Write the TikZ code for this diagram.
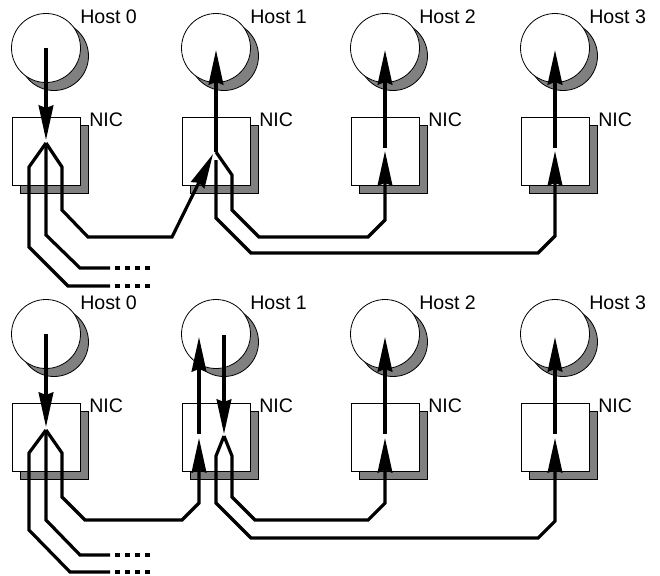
\documentclass[tikz,border=0pt]{standalone}
\usepackage{fontspec}
\setmainfont{Liberation Sans}
\usetikzlibrary{arrows.meta}
\definecolor{shadowgray}{HTML}{808080}
\begin{document}
\begin{tikzpicture}[x=0.75pt,y=-0.75pt,
  wire/.style={line width=2.4pt},
  arr/.style={wire, -{Stealth[length=26pt,width=11pt,inset=2pt]}},
  hostc/.style={circle, draw=black, line width=0.6pt, fill=white, minimum size=51.75pt, inner sep=0pt},
  hosts/.style={hostc, fill=shadowgray},
  nicbox/.style={rectangle, draw=black, line width=0.6pt, fill=white, minimum width=51pt, minimum height=51pt, inner sep=0pt},
  nics/.style={nicbox, fill=shadowgray},
  lbl/.style={font=\fontsize{14.7pt}{16pt}\selectfont, inner sep=0pt, anchor=west},
  dashwire/.style={line width=2.4pt, dash pattern=on 3.75pt off 3.75pt}
]
\useasboundingbox (0,0) rectangle (660,575);

% hosts and NICs, both panels
\foreach \p/\dy in {A/0,B/286} {
  \foreach \i/\x in {0/46,1/216,2/385,3/555} {
    \node[hosts] (hs\p\i) at ({\x+8},{56+\dy}) {};
    \node[hostc] (h\p\i) at (\x,{48+\dy}) {};
    \node[nics] (ns\p\i) at ({\x+8},{159+\dy}) {};
    \node[nicbox] (n\p\i) at (\x,{151+\dy}) {};
    \node[lbl] (hl\p\i) at ({\x+34},{17+\dy}) {Host \i};
    \node[lbl] (nl\p\i) at ({\x+43},{120+\dy}) {NIC};
  }
}

% ---------- top panel ----------
\coordinate (inA0) at (46,140);
\coordinate (apA0) at (46,143);
\coordinate (inA1) at (213,154);
\coordinate (apA1) at (216,152);
\coordinate (mA1) at (216,160);
\coordinate (inA2) at (385,151);
\coordinate (outA2) at (385,148);
\coordinate (inA3) at (555,151);
\coordinate (outA3) at (555,148);
\coordinate (tA1) at (216,50);
\coordinate (tA2) at (385,50);
\coordinate (tA3) at (555,50);

\draw[arr] (hA0.center) -- (inA0);
\draw[wire] (apA0) -- (29,167) -- (29,247) -- (68,286) -- (110,286);
\draw[dashwire] (115,286) -- (150,286);
\draw[wire] (apA0) -- (46,235) -- (80,268) -- (110,268);
\draw[dashwire] (115,268) -- (150,268);
\draw[arr] (apA0) -- (62,167) -- (62,210) -- (88,237) -- (172,237) -- (inA1);
\draw[arr] (apA1) -- (tA1);
\draw[arr] (apA1) -- (232,175) -- (232,210) -- (259,237) -- (368,237) -- (385,220) -- (inA2);
\draw[arr] (mA1) -- (216,218) -- (251,253) -- (538,253) -- (555,236) -- (inA3);
\draw[arr] (outA2) -- (tA2);
\draw[arr] (outA3) -- (tA3);

% ---------- bottom panel ----------
\coordinate (inB0) at (46,427);
\coordinate (apB0) at (46,430);
\coordinate (inB1) at (199,438);
\coordinate (outB1) at (199,434);
\coordinate (tB1u) at (199,337);
\coordinate (sB1) at (224,335);
\coordinate (inB1d) at (224,434);
\coordinate (apB1) at (224,436);
\coordinate (inB2) at (385,438);
\coordinate (outB2) at (385,434);
\coordinate (inB3) at (555,438);
\coordinate (outB3) at (555,434);
\coordinate (tB2) at (385,337);
\coordinate (tB3) at (555,337);

\draw[arr] (hB0.center) -- (inB0);
\draw[wire] (apB0) -- (29,453) -- (29,530) -- (70,572) -- (110,572);
\draw[dashwire] (115,572) -- (150,572);
\draw[wire] (apB0) -- (46,520) -- (80,555) -- (110,555);
\draw[dashwire] (115,555) -- (150,555);
\draw[arr] (apB0) -- (62,453) -- (62,497) -- (85,520) -- (182,520) -- (199,503) -- (inB1);
\draw[arr] (outB1) -- (tB1u);
\draw[arr] (sB1) -- (inB1d);
\draw[arr] (apB1) -- (216,456) -- (216,503) -- (251,538) -- (538,538) -- (555,521) -- (inB3);
\draw[arr] (apB1) -- (232,456) -- (232,497) -- (255,520) -- (368,520) -- (385,503) -- (inB2);
\draw[arr] (outB2) -- (tB2);
\draw[arr] (outB3) -- (tB3);
\end{tikzpicture}
\end{document}
